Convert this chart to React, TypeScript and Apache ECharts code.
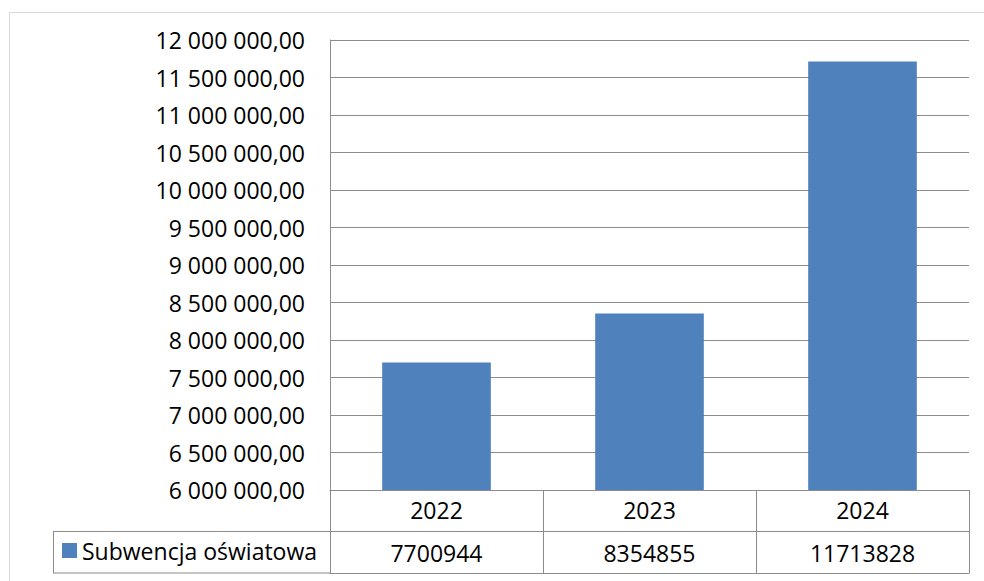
import React, { useEffect, useRef } from "react";
import * as echarts from "echarts";

const categories = ["2022", "2023", "2024"];
const seriesName = "Subwencja oświatowa";
const values = [7700944, 8354855, 11713828];
const yMin = 6000000;
const yMax = 12000000;
const yInterval = 500000;

const FONT = "'Open Sans', 'Liberation Sans', sans-serif";
const GRID_COLOR = "#8c8c8c";
const FS = 23;

function fmt(v: number): string {
  const s = Math.round(v).toString();
  const parts: string[] = [];
  for (let i = s.length; i > 0; i -= 3) {
    parts.unshift(s.substring(Math.max(0, i - 3), i));
  }
  return parts.join(" ") + ",00";
}

export default function App() {
  const ref = useRef<HTMLDivElement>(null);
  useEffect(() => {
    if (!ref.current) return;
    const chart = echarts.init(ref.current, undefined, { renderer: "svg" });
    const left = 330;
    const top = 40;
    const right = 15;
    const bottom = 91;
    const rowH = 41.5;
    chart.setOption({
      animation: false,
      backgroundColor: "#ffffff",
      textStyle: { fontFamily: FONT },
      grid: { left, top, right, bottom, containLabel: false },
      legend: {
        data: [seriesName],
        left: 62,
        top: 539,
        padding: 0,
        icon: "rect",
        itemWidth: 15,
        itemHeight: 15,
        itemGap: 5,
        textStyle: { fontFamily: FONT, fontSize: FS, color: "#000" },
      },
      xAxis: [
        {
          type: "category",
          data: categories,
          position: "bottom",
          axisLine: { show: true, lineStyle: { color: GRID_COLOR, width: 1 } },
          axisTick: { show: true, interval: 0, length: rowH, lineStyle: { color: GRID_COLOR } },
          axisLabel: {
            interval: 0,
            margin: 20,
            verticalAlign: "middle",
            fontFamily: FONT,
            fontSize: FS,
            color: "#000",
          },
          splitLine: { show: false },
        },
        {
          type: "category",
          data: values.map((v) => String(v)),
          position: "bottom",
          offset: rowH,
          axisLine: { show: true, lineStyle: { color: GRID_COLOR, width: 1 } },
          axisTick: { show: true, interval: 0, length: rowH, lineStyle: { color: GRID_COLOR } },
          axisLabel: {
            interval: 0,
            margin: 21,
            verticalAlign: "middle",
            fontFamily: FONT,
            fontSize: FS,
            color: "#000",
          },
          splitLine: { show: false },
        },
        {
          type: "category",
          data: categories,
          position: "bottom",
          offset: rowH * 2,
          axisLine: { show: true, lineStyle: { color: GRID_COLOR, width: 1 } },
          axisTick: { show: false },
          axisLabel: { show: false },
          splitLine: { show: false },
        },
      ],
      yAxis: {
        type: "value",
        min: yMin,
        max: yMax,
        interval: yInterval,
        axisLine: { show: true, lineStyle: { color: GRID_COLOR, width: 1 } },
        axisTick: { show: false },
        axisLabel: {
          margin: 25,
          fontFamily: FONT,
          fontSize: FS,
          color: "#000",
          formatter: (v: number) => fmt(v),
        },
        splitLine: { show: true, lineStyle: { color: GRID_COLOR, width: 1 } },
      },
      series: [
        {
          name: seriesName,
          type: "bar",
          xAxisIndex: 0,
          data: values,
          barCategoryGap: "49%",
          itemStyle: { color: "#4f81bd" },
        },
      ],
      graphic: [
        {
          type: "rect",
          left: 7,
          top: 10,
          shape: { x: 0, y: 0, width: 1000, height: 620 },
          style: { fill: "none", stroke: "#d9d9d9", lineWidth: 1 },
          silent: true,
          z: -10,
        },
        {
          type: "line",
          shape: { x1: 53, y1: 531.5, x2: 330, y2: 531.5 },
          style: { stroke: GRID_COLOR, lineWidth: 1 },
          silent: true,
        },
        {
          type: "line",
          shape: { x1: 53, y1: 573, x2: 330, y2: 573 },
          style: { stroke: GRID_COLOR, lineWidth: 1 },
          silent: true,
        },
        {
          type: "line",
          shape: { x1: 53.5, y1: 531.5, x2: 53.5, y2: 573 },
          style: { stroke: GRID_COLOR, lineWidth: 1 },
          silent: true,
        },
      ],
    });
    return () => chart.dispose();
  }, []);
  return (
    <div
      ref={ref}
      style={{ position: "absolute", left: 0, top: 0, width: 984, height: 581 }}
    />
  );
}
